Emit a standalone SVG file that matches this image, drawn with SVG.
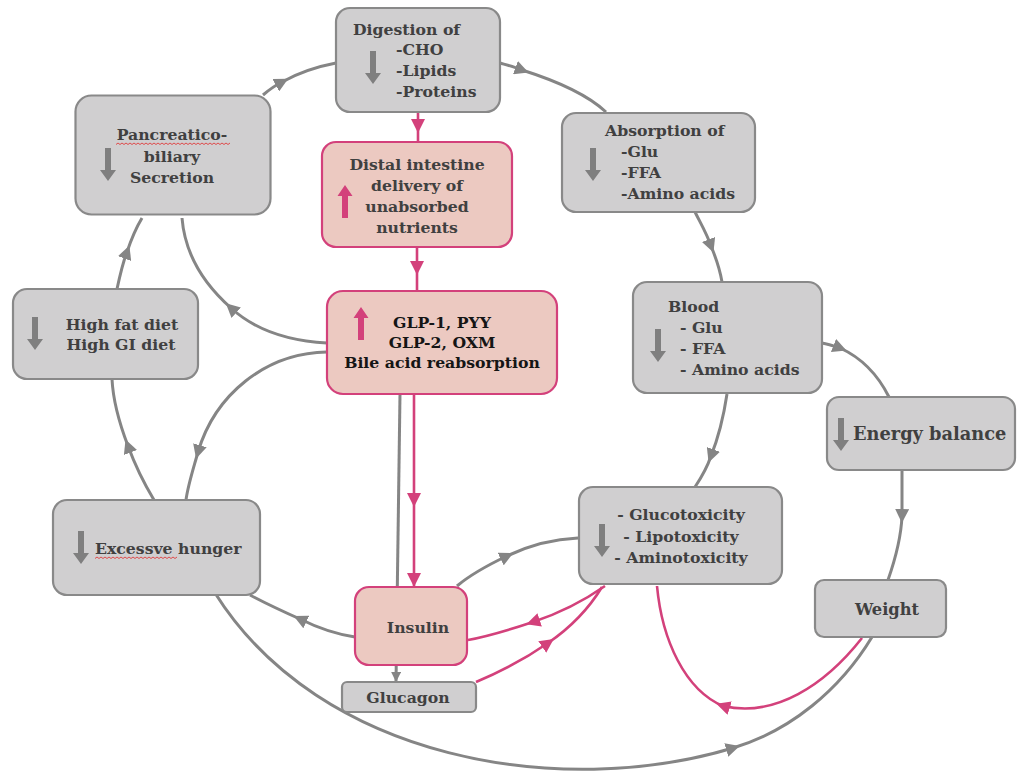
<svg xmlns="http://www.w3.org/2000/svg" xmlns:xlink="http://www.w3.org/1999/xlink" width="1024" height="782" viewBox="0 0 1024 782">
<style>
.g{fill:#d0cfd0;stroke:#898989;stroke-width:2.2}
.p{fill:#ecc9c1;stroke:#d3417b;stroke-width:2.2}
.t{font-family:"DejaVu Serif","Liberation Serif",serif;font-weight:bold;font-size:15.7px;fill:#404040}
.tk{fill:#151515}
.c{text-anchor:middle}
.cg{fill:none;stroke:#858585;stroke-width:3}
.cp{fill:none;stroke:#d3417b;stroke-width:2.6}
.ag{fill:#7f7f7f}
.ap{fill:#d3417b}
.sq{fill:none;stroke:#e03c3c;stroke-width:0.9}
</style>
<defs>
<marker id="mg" viewBox="0 0 14 14" refX="7" refY="7" markerWidth="14" markerHeight="14" markerUnits="userSpaceOnUse" orient="auto"><path d="M0,0 L14,7 L0,14 z" fill="#858585"/></marker>
<marker id="mp" viewBox="0 0 14 14" refX="7" refY="7" markerWidth="14" markerHeight="14" markerUnits="userSpaceOnUse" orient="auto"><path d="M0,0 L14,7 L0,14 z" fill="#d3417b"/></marker>
<marker id="mpe" viewBox="0 0 14 14" refX="14" refY="7" markerWidth="14" markerHeight="14" markerUnits="userSpaceOnUse" orient="auto"><path d="M0,0 L14,7 L0,14 z" fill="#d3417b"/></marker>
<marker id="mge" viewBox="0 0 10 10" refX="10" refY="5" markerWidth="10" markerHeight="10" markerUnits="userSpaceOnUse" orient="auto"><path d="M0,0 L10,5 L0,10 z" fill="#858585"/></marker>
<path id="down" d="M-3,0 h6 v22 h5 l-8,11 l-8,-11 h5 z"/>
<path id="up" d="M0,0 l7.5,11 h-4.5 v22 h-6 v-22 h-4.5 z"/>
</defs>

<g id="connectors">
<path class="cg" marker-mid="url(#mg)" d="M263,95 C270,89 276,85 282,82 C298,73 315,67 336,63"/>
<path class="cg" marker-mid="url(#mg)" d="M500,63 C507,65 515,67 522,70 C560,82 590,97 606,112"/>
<path class="cg" marker-mid="url(#mg)" d="M695,212 C701,224 707,234 711,246 C716,258 720,270 722,282"/>
<path class="cg" marker-mid="url(#mg)" d="M727,394 C724,414 719,436 711,456 C707,468 701,478 695,487"/>
<path class="cg" marker-mid="url(#mg)" d="M822,343 C828,344 834,346 840,348 C862,358 878,375 889,397"/>
<path class="cg" marker-mid="url(#mg)" d="M902,470 L902,516 C901,540 895,560 888,580"/>
<path class="cg" marker-mid="url(#mg)" d="M215,593 C320,760 560,800 733,748 C790,731 840,690 872,637"/>
<path class="cp" marker-mid="url(#mp)" d="M862,638 C825,685 775,718 723,706 C685,690 662,640 657,586"/>
<path class="cg" marker-mid="url(#mg)" d="M117,289 C120,275 123,262 127,252 C131,240 136,228 142,218"/>
<path class="cg" marker-mid="url(#mg)" d="M154,500 C145,485 135,465 128,446 C120,425 113,400 112,379"/>
<path class="cg" marker-mid="url(#mg)" d="M327,352 C265,353 215,395 198,452 C193,470 188,485 186,500"/>
<path class="cg" marker-mid="url(#mg)" d="M327,343 C290,341 255,330 231,308 C205,285 185,255 182,218"/>
<path class="cg" marker-mid="url(#mg)" d="M355,637 C335,634 316,627 300,619 C282,611 265,603 250,595"/>
<path class="cg" marker-mid="url(#mg)" d="M457,586 C470,575 488,565 507,556 C530,545 555,539 578,538"/>
<path class="cp" marker-mid="url(#mp)" d="M605,586 C585,600 560,613 533,622 C512,629 490,636 468,640"/>
<path class="cp" marker-mid="url(#mp)" d="M476,682 C500,672 525,659 548,643 C570,628 588,610 602,587"/>
<path class="cg" stroke-width="2.5" marker-end="url(#mge)" d="M400,394 L396,682"/>
<path class="cp" marker-mid="url(#mp)" marker-end="url(#mpe)" d="M414,394 L414,500 L414,587"/>
<path class="cp" marker-mid="url(#mp)" d="M418,112 L418,126 L418,142"/>
<path class="cp" marker-mid="url(#mp)" d="M417,247 L417,268 L417,291"/>
</g>

<g id="digestion">
<rect class="g" x="336" y="8" width="164" height="104" rx="14"/>
<use xlink:href="#down" class="ag" x="373" y="51"/>
<text class="t" x="353" y="35">Digestion of</text>
<text class="t" x="396" y="55">-CHO</text>
<text class="t" x="396" y="76">-Lipids</text>
<text class="t" x="396" y="97">-Proteins</text>
</g>

<g id="pancreatico">
<rect class="g" x="75.5" y="95.5" width="195" height="119" rx="16" stroke="#7e7e7e" stroke-width="5"/>
<use xlink:href="#down" class="ag" x="108" y="148"/>
<text class="t c" x="172" y="140">Pancreatico-</text>
<text class="t c" x="172" y="162">biliary</text>
<text class="t c" x="172" y="183">Secretion</text>
<path class="sq" d="M116,144.5 l2,-1.5 l2,1.5 l2,-1.5 l2,1.5 l2,-1.5 l2,1.5 l2,-1.5 l2,1.5 l2,-1.5 l2,1.5 l2,-1.5 l2,1.5 l2,-1.5 l2,1.5 l2,-1.5 l2,1.5 l2,-1.5 l2,1.5 l2,-1.5 l2,1.5 l2,-1.5 l2,1.5 l2,-1.5 l2,1.5 l2,-1.5 l2,1.5 l2,-1.5 l2,1.5 l2,-1.5 l2,1.5 l2,-1.5 l2,1.5 l2,-1.5 l2,1.5 l2,-1.5 l2,1.5 l2,-1.5 l2,1.5 l2,-1.5 l2,1.5 l2,-1.5 l2,1.5 l2,-1.5 l2,1.5 l2,-1.5 l2,1.5 l2,-1.5 l2,1.5 l2,-1.5 l2,1.5 l2,-1.5 l2,1.5 l2,-1.5 l2,1.5 l2,-1.5 l2,1.5 l2,-1.5"/>
</g>

<g id="distal">
<rect class="p" x="322" y="142" width="190" height="105" rx="14"/>
<use xlink:href="#up" class="ap" x="345" y="185"/>
<text class="t c" x="417" y="170">Distal intestine</text>
<text class="t c" x="417" y="191">delivery of</text>
<text class="t c" x="417" y="212">unabsorbed</text>
<text class="t c" x="417" y="233">nutrients</text>
</g>

<g id="absorption">
<rect class="g" x="562" y="113" width="193" height="99" rx="14"/>
<use xlink:href="#down" class="ag" x="593" y="148"/>
<text class="t" x="605" y="136">Absorption of</text>
<text class="t" x="621" y="157">-Glu</text>
<text class="t" x="621" y="178">-FFA</text>
<text class="t" x="621" y="199">-Amino acids</text>
</g>

<g id="blood">
<rect class="g" x="633" y="282" width="189" height="111" rx="14"/>
<use xlink:href="#down" class="ag" x="658" y="329"/>
<text class="t" x="668" y="312">Blood</text>
<text class="t" x="680" y="333">- Glu</text>
<text class="t" x="680" y="354">- FFA</text>
<text class="t" x="680" y="375">- Amino acids</text>
</g>

<g id="energy">
<rect class="g" x="827" y="397" width="188" height="73" rx="12"/>
<use xlink:href="#down" class="ag" x="841" y="418"/>
<text class="t" x="853" y="440" style="font-size:17.8px">Energy balance</text>
</g>

<g id="weight">
<rect class="g" x="815" y="580" width="131" height="57" rx="9"/>
<text class="t c" x="887" y="615" style="font-size:16.3px">Weight</text>
</g>

<g id="toxicity">
<rect class="g" x="579" y="487" width="203" height="97" rx="14" stroke-width="3"/>
<use xlink:href="#down" class="ag" x="602" y="524"/>
<text class="t c" x="681" y="520">- Glucotoxicity</text>
<text class="t c" x="681" y="542">- Lipotoxicity</text>
<text class="t c" x="681" y="563">- Aminotoxicity</text>
</g>

<g id="highfat">
<rect class="g" x="13" y="289" width="185" height="90" rx="14"/>
<use xlink:href="#down" class="ag" x="35" y="317"/>
<text class="t c" x="122" y="330">High fat diet</text>
<text class="t c" x="121" y="350">High GI diet</text>
</g>

<g id="hunger">
<rect class="g" x="53" y="500" width="207" height="95" rx="14"/>
<use xlink:href="#down" class="ag" x="81" y="531"/>
<text class="t" x="95" y="554">Excessve hunger</text>
<path class="sq" d="M95,558.5 l2,-1.5 l2,1.5 l2,-1.5 l2,1.5 l2,-1.5 l2,1.5 l2,-1.5 l2,1.5 l2,-1.5 l2,1.5 l2,-1.5 l2,1.5 l2,-1.5 l2,1.5 l2,-1.5 l2,1.5 l2,-1.5 l2,1.5 l2,-1.5 l2,1.5 l2,-1.5 l2,1.5 l2,-1.5 l2,1.5 l2,-1.5 l2,1.5 l2,-1.5 l2,1.5 l2,-1.5 l2,1.5 l2,-1.5 l2,1.5 l2,-1.5 l2,1.5 l2,-1.5 l2,1.5 l2,-1.5 l2,1.5 l2,-1.5 l2,1.5 l2,-1.5"/>
</g>

<g id="glp">
<rect class="p" x="327" y="291" width="230" height="103" rx="16"/>
<use xlink:href="#up" class="ap" x="361" y="307"/>
<text class="t c tk" x="442" y="328">GLP-1, PYY</text>
<text class="t c tk" x="442" y="348">GLP-2, OXM</text>
<text class="t c tk" x="442" y="368">Bile acid reabsorption</text>
</g>

<g id="insulin">
<rect class="p" x="355" y="587" width="112" height="78" rx="14"/>
<text class="t c" x="418" y="633">Insulin</text>
</g>

<g id="glucagon">
<rect class="g" x="342" y="682" width="134" height="30" rx="5"/>
<text class="t c" x="408" y="703">Glucagon</text>
</g>
</svg>
